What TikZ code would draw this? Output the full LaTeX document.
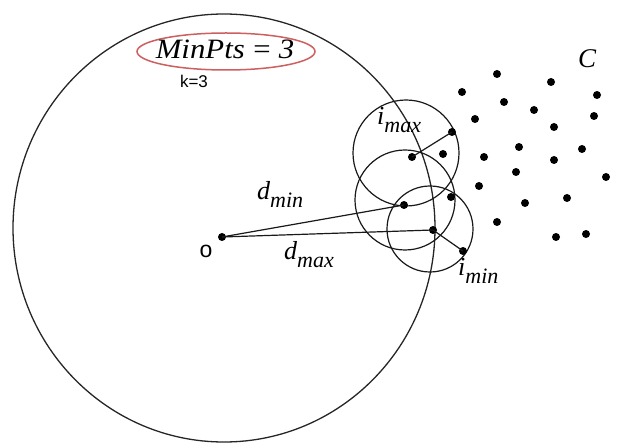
\documentclass[tikz,border=0pt]{standalone}
\usepackage{fontspec}
\setmainfont{Liberation Serif}
\newfontfamily\sansf{Liberation Sans}
\newcommand{\lowsub}[1]{\raisebox{-0.3em}{\fontsize{22}{22}\selectfont\itshape #1}}
\definecolor{ovalred}{RGB}{205,95,95}
\begin{document}
\begin{tikzpicture}[x=1pt,y=-1pt,
  dot/.style={circle,fill=black,inner sep=0pt,minimum size=8pt},
  ln/.style={line width=1.2pt,black!90},
  bigline/.style={line width=1.3pt,black!85},
  lbl/.style={inner sep=0pt,font=\fontsize{26}{26}\selectfont\itshape}]
\useasboundingbox (0,0) rectangle (626,443);
\fill[white] (0,0) rectangle (626,443);
% big circle
\draw[bigline] (224,228) ellipse [x radius=211, y radius=214];
% small circles
\draw[ln] (406,153) circle [radius=53];
\draw[ln] (405,200) circle [radius=50];
\draw[ln] (430,229) circle [radius=43];
% dots
\node[dot] (o) at (222,237) {};
\node[dot] (p2) at (412,157) {};
\node[dot] (p3) at (404,205) {};
\node[dot] (p4) at (433,230) {};
\node[dot] (p5) at (452,132) {};
\node[dot] (p6) at (463,251) {};
\node[dot] (p7) at (443,154) {};
\node[dot] (p8) at (451,197) {};
\node[dot] (p9) at (462,92) {};
\node[dot] (p10) at (475,119) {};
\node[dot] (p11) at (484,157) {};
\node[dot] (p12) at (479,186) {};
\node[dot] (p13) at (497,74) {};
\node[dot] (p14) at (504,102) {};
\node[dot] (p15) at (551,82) {};
\node[dot] (p16) at (597,95) {};
\node[dot] (p17) at (534,110) {};
\node[dot] (p18) at (594,116) {};
\node[dot] (p19) at (554,127) {};
\node[dot] (p20) at (519,147) {};
\node[dot] (p21) at (582,149) {};
\node[dot] (p22) at (554,160) {};
\node[dot] (p23) at (516,172) {};
\node[dot] (p24) at (606,177) {};
\node[dot] (p25) at (567,198) {};
\node[dot] (p26) at (525,203) {};
\node[dot] (p27) at (497,222) {};
\node[dot] (p28) at (556,237) {};
\node[dot] (p29) at (586,234) {};
% connectors
\draw[ln] (o.center) -- (p3.center);
\draw[ln] (o.center) -- (p4.center);
\draw[ln] (p4.center) -- (p6.center);
\draw[ln] (p2.center) -- (p5.center);
% MinPts oval
\draw[ovalred,line width=1.5pt] (226,51.5) ellipse [x radius=89, y radius=18.5];
\node[inner sep=0pt,anchor=base,font=\fontsize{28}{28}\selectfont\itshape] (minpts) at (225,59) {\scalebox{1.1}[1]{MinPts\hspace{6pt}=\hspace{6pt}3}};
\node[inner sep=0pt,anchor=base,font=\sansf\fontsize{17}{17}\selectfont] (k) at (194,88) {k=3};
\node[inner sep=0pt,font=\sansf\fontsize{23}{23}\selectfont] (olbl) at (206,251) {o};
\node[inner sep=0pt,font=\fontsize{27}{27}\selectfont\itshape] (c) at (587,59) {C};
\node[lbl,anchor=base west] (dmin) at (257,200) {d\lowsub{min}};
\node[lbl,anchor=base west] (dmax) at (284,260) {d\lowsub{max}};
\node[lbl,anchor=base west] (imax) at (377,125) {i\lowsub{max}};
\node[lbl,anchor=base west] (imin) at (458,276) {i\lowsub{min}};
\end{tikzpicture}
\end{document}
